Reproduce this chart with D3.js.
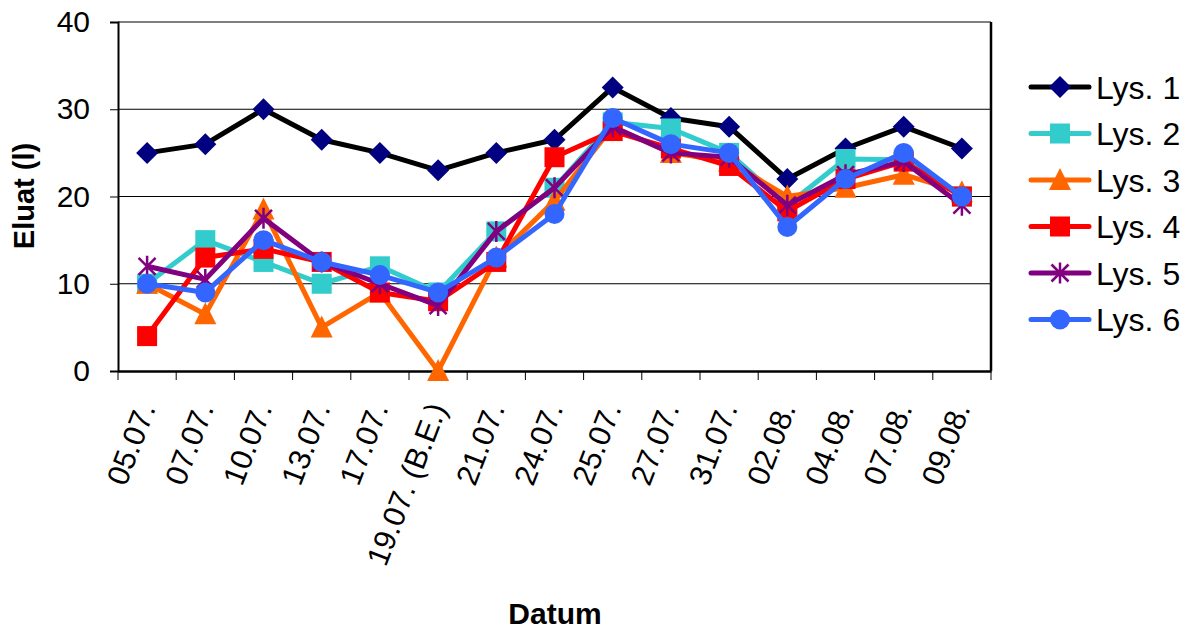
<!DOCTYPE html>
<html><head><meta charset="utf-8">
<script src="https://cdn.jsdelivr.net/npm/d3@7"></script>
<style>body{margin:0;background:#fff}svg{display:block}text{font-family:"Liberation Sans",Arial,sans-serif}</style>
</head><body>
<svg id="c" width="1193" height="630"></svg>
<script>
const categories = ["05.07.","07.07.","10.07.","13.07.","17.07.","19.07. (B.E.)","21.07.","24.07.","25.07.","27.07.","31.07.","02.08.","04.08.","07.08.","09.08."];
const lys1 = [25, 26, 30, 26.5, 25, 23, 25, 26.5, 32.5, 29, 28, 22, 25.5, 28, 25.5];
const lys2 = [10, 15, 12.5, 10, 12, 9, 16, 21, 28.5, 27.8, 25, 19, 24.3, 24.2, 20];
const lys3 = [10, 6.5, 18.5, 5, 9, 0, 13, 19.5, 28, 25, 24, 20, 21, 22.5, 20.5];
const lys4 = [4, 13, 14, 12.5, 9, 8, 12.5, 24.5, 27.5, 25.5, 23.5, 18.3, 22, 24, 20];
const lys5 = [12, 10.5, 17.5, 12.5, 10, 7.5, 16, 21, 28, 25, 24.5, 19, 22.5, 24, 19];
const lys6 = [10, 9, 15, 12.5, 11, 9, 13, 18, 29, 26, 25, 16.5, 22, 25, 20];
const seriesNames = ["Lys. 1","Lys. 2","Lys. 3","Lys. 4","Lys. 5","Lys. 6"];
const yTicks = [0, 10, 20, 30, 40];

const series = [
  {name: seriesNames[0], values: lys1, line: "#000000", fill: "#000080", shape: "diamond"},
  {name: seriesNames[1], values: lys2, line: "#33CCCC", fill: "#33CCCC", shape: "square"},
  {name: seriesNames[2], values: lys3, line: "#FF6600", fill: "#FF6600", shape: "triangle"},
  {name: seriesNames[3], values: lys4, line: "#FF0000", fill: "#FF0000", shape: "square"},
  {name: seriesNames[4], values: lys5, line: "#800080", fill: "#800080", shape: "star"},
  {name: seriesNames[5], values: lys6, line: "#3366FF", fill: "#3366FF", shape: "circle"}
];

const L = 118, R = 991, T = 22, B = 371;
const svg = d3.select("#c");
const x = d3.scaleBand().domain(categories).range([L, R]).padding(0);
const y = d3.scaleLinear().domain([0, 40]).range([B, T]);
const cx = d => x(d) + x.bandwidth() / 2;

// gridlines
svg.append("g").selectAll("line").data(yTicks.filter(t => t > 0)).join("line")
  .attr("x1", L).attr("x2", R).attr("y1", d => y(d)).attr("y2", d => y(d))
  .attr("stroke", "#000").attr("stroke-width", 1);

// right border
svg.append("line").attr("x1", R).attr("x2", R).attr("y1", T).attr("y2", B)
  .attr("stroke", "#000").attr("stroke-width", 2.5);

// y axis
const yAxis = svg.append("g").attr("transform", `translate(${L},0)`)
  .call(d3.axisLeft(y).tickValues(yTicks).tickSize(8).tickPadding(20));
yAxis.select(".domain").attr("stroke", "#000").attr("stroke-width", 2);
yAxis.selectAll(".tick line").attr("stroke", "#000").attr("stroke-width", 1);
yAxis.selectAll("text").attr("font-size", 30).attr("fill", "#000").attr("font-family", "Liberation Sans, Arial");

// x axis
const xAxis = svg.append("g").attr("transform", `translate(0,${B})`)
  .call(d3.axisBottom(x).tickSize(0).tickFormat(""));
xAxis.select(".domain").attr("stroke", "#000").attr("stroke-width", 2.5);
const bounds = d3.range(categories.length + 1).map(i => L + i * x.bandwidth());
svg.append("g").selectAll("line").data(bounds).join("line")
  .attr("x1", d => d).attr("x2", d => d).attr("y1", B).attr("y2", B + 9)
  .attr("stroke", "#000").attr("stroke-width", 1);

// x labels
svg.append("g").selectAll("text").data(categories).join("text")
  .attr("transform", d => `translate(${cx(d) + 9},${B + 37}) rotate(-69)`)
  .attr("text-anchor", "end").attr("font-size", 30.5).attr("fill", "#000")
  .text(d => d);

// axis titles
svg.append("text").attr("transform", `translate(34,196) rotate(-90)`)
  .attr("text-anchor", "middle").attr("font-size", 29).attr("font-weight", "bold").text("Eluat (l)");
svg.append("text").attr("x", 555).attr("y", 624)
  .attr("text-anchor", "middle").attr("font-size", 30).attr("font-weight", "bold").text("Datum");

function drawMarker(g, shape, fill, line) {
  const s = 10;
  if (shape === "diamond") {
    g.append("path").attr("d", `M0,${-s-1}L${s+1},0L0,${s+1}L${-s-1},0Z`).attr("fill", fill);
  } else if (shape === "square") {
    g.append("rect").attr("x", -s).attr("y", -s).attr("width", 2*s).attr("height", 2*s).attr("fill", fill);
  } else if (shape === "triangle") {
    g.append("path").attr("d", `M0,${-s-2}L${s+1},${s}L${-s-1},${s}Z`).attr("fill", fill);
  } else if (shape === "circle") {
    g.append("circle").attr("r", s).attr("fill", fill);
  } else if (shape === "star") {
    const a = 8.5;
    g.append("path").attr("d", `M${-a},${-a}L${a},${a}M${-a},${a}L${a},${-a}M0,${-a-2}L0,${a+2}`)
      .attr("stroke", fill).attr("stroke-width", 2.5).attr("fill", "none");
  }
}

const lineGen = d3.line().x((d, i) => cx(categories[i])).y(d => y(d));
series.forEach(s => {
  const g = svg.append("g");
  g.append("path").datum(s.values).attr("d", lineGen)
    .attr("fill", "none").attr("stroke", s.line).attr("stroke-width", 5).attr("stroke-linejoin", "round");
  s.values.forEach((v, i) => {
    const m = g.append("g").attr("transform", `translate(${cx(categories[i])},${y(v)})`);
    drawMarker(m, s.shape, s.fill, s.line);
  });
});

// legend
const lg = svg.append("g");
series.forEach((s, i) => {
  const yy = 87 + i * 46.5;
  lg.append("line").attr("x1", 1031).attr("x2", 1089).attr("y1", yy).attr("y2", yy)
    .attr("stroke", s.line).attr("stroke-width", 5).attr("stroke-linecap", "round");
  const m = lg.append("g").attr("transform", `translate(1060,${yy})`);
  drawMarker(m, s.shape, s.fill, s.line);
  lg.append("text").attr("x", 1096).attr("y", yy + 11.5).attr("font-size", 32).attr("fill", "#000").text(s.name);
});
</script>
</body></html>
